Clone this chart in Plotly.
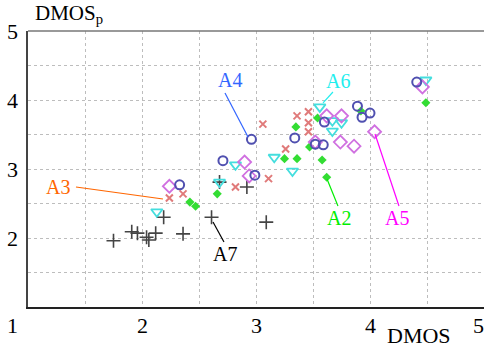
import plotly.graph_objects as go

# ---- data ----
A2_x = [2.42, 2.47, 2.66, 3.35, 3.25, 3.36, 3.58, 3.62, 3.47, 3.54, 3.92, 4.49]
A2_y = [2.52, 2.46, 2.64, 3.61, 3.15, 3.15, 3.13, 2.88, 3.32, 3.74, 3.84, 3.96]

A3_x = [2.24, 2.36, 2.82, 3.11, 3.06, 3.26, 3.36, 3.46, 3.46, 3.46]
A3_y = [2.58, 2.64, 2.74, 2.86, 3.65, 3.29, 3.77, 3.83, 3.67, 3.54]

A4_x = [2.33, 2.71, 2.99, 2.96, 3.34, 3.60, 3.52, 3.59, 3.89, 3.93, 4.00, 4.41]
A4_y = [2.77, 3.12, 2.91, 3.43, 3.45, 3.68, 3.36, 3.35, 3.91, 3.75, 3.81, 4.26]

A5_x = [2.24, 2.90, 2.94, 3.62, 3.75, 3.52, 3.74, 3.86, 4.04, 4.46]
A5_y = [2.75, 3.10, 2.90, 3.77, 3.77, 3.39, 3.39, 3.33, 3.54, 4.19]

A6_x = [2.13, 2.82, 2.68, 3.16, 3.32, 3.56, 3.67, 3.67, 3.75, 4.49]
A6_y = [2.38, 3.06, 2.81, 3.17, 2.97, 3.90, 3.55, 3.70, 3.67, 4.29]

A7_x = [1.75, 1.91, 1.96, 2.04, 2.06, 2.12, 2.36, 2.19, 2.61, 2.92, 3.09, 2.68]
A7_y = [1.96, 2.09, 2.07, 2.01, 1.97, 2.07, 2.06, 2.30, 2.30, 2.74, 2.23, 2.81]

x_ticks = [2, 3, 4, 5]
y_ticks = [2, 3, 4, 5]

# callouts: name, label position, leader line start -> end
callouts = [
    ("A4", (2.772, 4.29), (2.728, 4.101), (2.93, 3.464), "#3366ff"),
    ("A6", (3.719, 4.275), (3.675, 4.116), (3.588, 3.957), "#22eeee"),
    ("A3", (1.263, 2.739), (1.421, 2.739), (2.184, 2.565), "#ff6600"),
    ("A7", (2.728, 1.768), (2.623, 2.232), (2.719, 1.942), "#000000"),
    ("A2", (3.728, 2.29), (3.623, 2.855), (3.719, 2.464), "#00ee00"),
    ("A5", (4.237, 2.29), (4.044, 3.507), (4.254, 2.464), "#ff00ff"),
]

FONT = "Liberation Serif"

series = [
    (A3_x, A3_y, "x-thin-open", 7, "#e07a7a", 2),
    (A7_x, A7_y, "cross-thin-open", 10, "#444444", 1.6),
    (A2_x, A2_y, "diamond", 7, "#33dd33", 1),
    (A6_x, A6_y, "triangle-down-open", 10, "#44dede", 1.8),
    (A5_x, A5_y, "diamond-open", 10, "#d070e0", 1.8),
    (A4_x, A4_y, "circle-open", 9, "#5050b0", 2),
]

fig = go.Figure()
for xs, ys, sym, size, col, lw in series:
    if sym == "diamond":
        marker = dict(symbol=sym, size=size, color=col, line=dict(width=0))
    else:
        marker = dict(symbol=sym, size=size, color=col, line=dict(width=lw, color=col))
    fig.add_trace(go.Scatter(x=xs, y=ys, mode="markers", marker=marker,
                             showlegend=False, hoverinfo="skip", cliponaxis=False))

annotations = []
shapes = []
for name, (lx, ly), (sx, sy), (ex, ey), col in callouts:
    annotations.append(dict(x=lx, y=ly, xref="x", yref="y", text=name, showarrow=False,
                            xanchor="center", yanchor="middle",
                            font=dict(family=FONT, size=20, color=col)))
    shapes.append(dict(type="line", x0=sx, y0=sy, x1=ex, y1=ey, xref="x", yref="y",
                       line=dict(color=col, width=1.2)))

tick_font = dict(family=FONT, size=22, color="#000")
for t in x_ticks:
    annotations.append(dict(x=t, y=-0.068, xref="x", yref="paper", text=str(t),
                            showarrow=False, xanchor="center", yanchor="middle",
                            font=tick_font, xshift=(-6 if t == 5 else 0)))
for t in y_ticks:
    annotations.append(dict(x=-0.033, y=t, xref="paper", yref="y", text=str(t),
                            showarrow=False, xanchor="center", yanchor="middle",
                            font=tick_font))
annotations.append(dict(x=-0.033, y=-0.068, xref="paper", yref="paper", text="1",
                        showarrow=False, xanchor="center", yanchor="middle", font=tick_font))
annotations.append(dict(x=0.857, y=-0.103, xref="paper", yref="paper", text="DMOS",
                        showarrow=False, xanchor="center", yanchor="middle",
                        font=dict(family=FONT, size=22, color="#000")))
annotations.append(dict(x=0.012, y=1.0, xref="paper", yref="paper", text="DMOS<sub>p</sub>",
                        showarrow=False, xanchor="left", yanchor="bottom", yshift=2,
                        font=dict(family=FONT, size=21, color="#000")))

fig.update_layout(
    width=484, height=347,
    margin=dict(l=28, r=0, t=31, b=40),
    paper_bgcolor="white", plot_bgcolor="white",
    annotations=annotations, shapes=shapes,
    xaxis=dict(range=[1, 5], dtick=0.5, tick0=1, showticklabels=False, ticks="",
               showgrid=True, gridcolor="#bdbdbd", griddash="dot", gridwidth=1,
               showline=True, linecolor="#222", linewidth=1.5, mirror=False,
               zeroline=False),
    yaxis=dict(range=[1, 5], dtick=0.5, tick0=1, showticklabels=False, ticks="",
               showgrid=True, gridcolor="#bdbdbd", griddash="dot", gridwidth=1,
               showline=True, linecolor="#444", linewidth=1.5, mirror=False,
               zeroline=False),
)
# top frame line (light grey)
fig.add_shape(type="line", xref="paper", yref="paper", x0=0, x1=1, y0=1, y1=1,
              line=dict(color="#777", width=1.5))

fig.write_html("out.html")
